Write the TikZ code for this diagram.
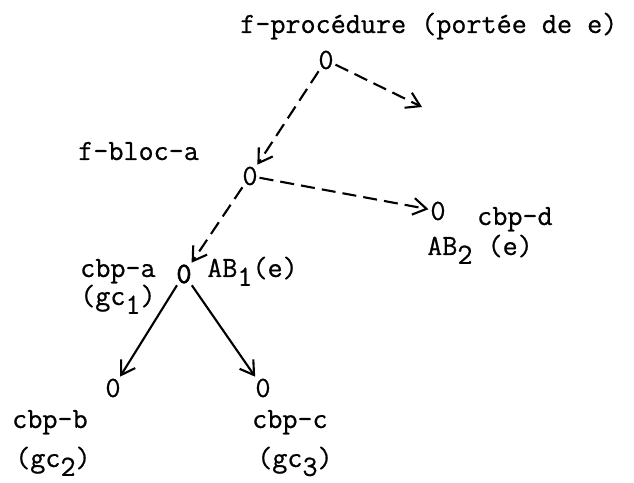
\documentclass[tikz,border=0pt]{standalone}
\usepackage{fontspec}
\setmonofont{Latin Modern Mono}[FakeBold=0.7]
\newfontfamily\heavytt{Latin Modern Mono}[FakeBold=2.5]
\usetikzlibrary{arrows.meta}

\newcommand{\lowsub}[1]{\raisebox{-0.7ex}{#1}}

\begin{document}
\begin{tikzpicture}[x=0.03cm, y=0.03cm,
    font=\ttfamily\fontsize{25}{30}\selectfont,
    pt/.style={inner sep=1.5pt},
    lbl/.style={inner sep=0pt, anchor=base west},
    dsh/.style={line width=1.8pt, dash pattern=on 12pt off 6pt, -{Straight Barb[length=4mm,width=5mm]}},
    sld/.style={line width=1.8pt, -{Straight Barb[length=4mm,width=5mm]}}]
    \useasboundingbox (0,0) rectangle (634,483);

    % the points of the tree
    \node[pt] (fproc) at (326,423) {0};
    \node[pt] (fbloc) at (250,307) {0};
    \node[pt] (cbpa) at (184,209) {\heavytt 0};
    \node[pt] (cbpd) at (438,272) {0};
    \node[pt] (cbpb) at (113,95) {0};
    \node[pt] (cbpc) at (263,95) {0};
    \coordinate (fpend) at (422,376);

    % the names beside them
    \node[lbl] (tfproc) at (240,450) {f-procédure (portée de e)};
    \node[lbl] (tfbloc) at (78,323) {f-bloc-a};
    \node[lbl] (tcbpa) at (80,206) {cbp-a};
    \node[lbl] (gcone) at (80,178) {(gc\lowsub{1})};
    \node[lbl] (abone) at (207,206) {AB\lowsub{1}(e)};
    \node[lbl] (tcbpd) at (477,258) {cbp-d};
    \node[lbl] (abtwo) at (427,228) {AB\lowsub{2} (e)};
    \node[lbl] (tcbpb) at (12,55) {cbp-b};
    \node[lbl] (gctwo) at (15,16) {(gc\lowsub{2})};
    \node[lbl] (tcbpc) at (252,55) {cbp-c};
    \node[lbl] (gcthree) at (257,16) {(gc\lowsub{3})};

    \draw[dsh] (fproc) -- (fpend);
    \draw[dsh] (fproc) -- (fbloc);
    \draw[dsh] (fbloc) -- (cbpd);
    \draw[dsh] (fbloc) -- (cbpa);
    \draw[sld] (cbpa) -- (cbpb);
    \draw[sld] (cbpa) -- (cbpc);
\end{tikzpicture}
\end{document}
